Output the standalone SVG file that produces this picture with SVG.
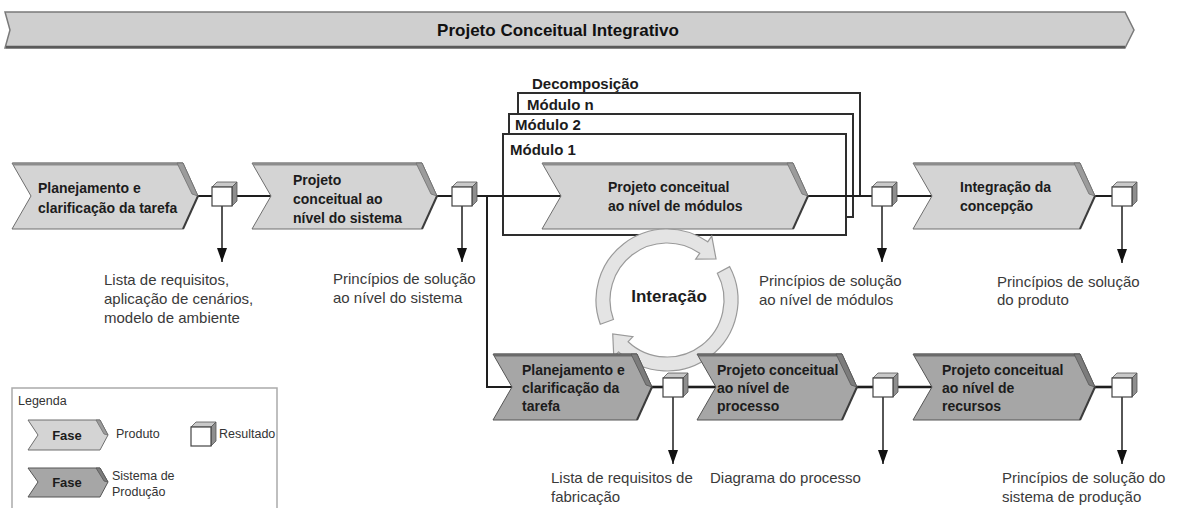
<svg xmlns="http://www.w3.org/2000/svg" width="1177" height="508" viewBox="0 0 1177 508">
  <defs>
    <style>
      text { font-family: "Liberation Sans", Arial, sans-serif; }
      .title { font-size: 17px; font-weight: bold; fill: #111; }
      .ptxt { font-size: 14px; font-weight: bold; fill: #1c1c1c; }
      .lbl { font-size: 15px; fill: #3a3a3a; }
      .mod { font-size: 15px; font-weight: bold; fill: #1c1c1c; }
      .leg { font-size: 12.5px; fill: #333; }
      .legb { font-size: 13px; font-weight: bold; fill: #1c1c1c; }
      .banner { fill: #cfcfcf; stroke: #7a7a7a; stroke-width: 1.5; }
      .ph-u { fill: #d4d4d4; stroke: #6e6e6e; stroke-width: 1; }
      .ph-l { fill: #a6a6a6; stroke: #555; stroke-width: 1; }
      .bev-u { fill: #9c9c9c; stroke: #6e6e6e; stroke-width: 0.8; }
      .bev-l { fill: #7c7c7c; stroke: #555; stroke-width: 0.8; }
      .top-u { stroke: #8c8c8c; stroke-width: 3; }
      .top-l { stroke: #6a6a6a; stroke-width: 3; }
      .shade { stroke: #3c3c3c; stroke-width: 2; fill: none; }
      .frame { fill: #fff; stroke: #2e2e2e; stroke-width: 2; }
      .wire { stroke: #1e1e1e; stroke-width: 2; fill: none; }
      .wire-l { stroke: #1e1e1e; stroke-width: 2.6; fill: none; }
      .out { stroke: #1e1e1e; stroke-width: 1.5; fill: none; marker-end: url(#ah); }
      .ring { fill: #e4e4e4; stroke: #9a9a9a; stroke-width: 1.2; }
    </style>
    <marker id="ah" viewBox="0 0 14 10" refX="14" refY="5" markerUnits="userSpaceOnUse" markerWidth="14" markerHeight="10" orient="auto">
      <path d="M0,0 L14,5 L0,10 z" fill="#111"/>
    </marker>
    <!-- result cube: front face 20x19 starting at (0,5) -->
    <symbol id="res" viewBox="0 0 26 25" width="26" height="25" overflow="visible">
      <polygon points="0,5 5,0 25,0 20,5" fill="#c9c9c9" stroke="#555" stroke-width="0.8"/>
      <polygon points="20,5 25,0 25,19 20,24" fill="#8e8e8e" stroke="#555" stroke-width="0.8"/>
      <rect x="0" y="5" width="20" height="19" fill="#fff" stroke="#444" stroke-width="1.2"/>
    </symbol>
  </defs>

  <rect width="1177" height="508" fill="#fff"/>

  <!-- top banner -->
  <g id="banner">
    <polygon class="banner" points="5,12 1125,12 1134,30 1125,48 5,48 10,30"/>
    <line x1="6" y1="47" x2="1125" y2="47" stroke="#5a5a5a" stroke-width="2.5"/>
    <text class="title" x="558" y="36" text-anchor="middle">Projeto Conceitual Integrativo</text>
  </g>

  <!-- module frames (decomposition) -->
  <g id="decomposicao">
    <text class="mod" x="532" y="89">Decomposição</text>
    <rect class="frame" x="518" y="93" width="342" height="103"/>
    <text class="mod" x="527" y="110">Módulo n</text>
    <rect class="frame" x="509" y="114" width="344" height="103"/>
    <text class="mod" x="515" y="130">Módulo 2</text>
    <rect class="frame" x="503" y="134" width="343" height="101"/>
    <text class="mod" x="510" y="155">Módulo 1</text>
  </g>

  <!-- connectors -->
  <g id="connectors">
    <line class="wire" x1="198" y1="196" x2="212" y2="196"/>
    <line class="wire" x1="237" y1="196" x2="272" y2="196"/>
    <line class="wire" x1="437" y1="196" x2="452" y2="196"/>
    <line class="wire" x1="477" y1="196" x2="562" y2="196"/>
    <line class="wire" x1="808" y1="196" x2="872" y2="196"/>
    <line class="wire" x1="897" y1="196" x2="932" y2="196"/>
    <line class="wire" x1="1095" y1="196" x2="1112" y2="196"/>
    <polyline class="wire" points="487,196 487,387 512,387"/>
    <line class="wire-l" x1="652" y1="387" x2="663" y2="387"/>
    <line class="wire-l" x1="688" y1="387" x2="716" y2="387"/>
    <line class="wire-l" x1="857" y1="387" x2="873" y2="387"/>
    <line class="wire-l" x1="898" y1="387" x2="932" y2="387"/>
    <line class="wire-l" x1="1095" y1="387" x2="1112" y2="387"/>
    <line class="out" x1="222" y1="206" x2="222" y2="262"/>
    <line class="out" x1="462" y1="206" x2="462" y2="262"/>
    <line class="out" x1="882" y1="206" x2="882" y2="262"/>
    <line class="out" x1="1122" y1="206" x2="1122" y2="263"/>
    <line class="out" x1="673" y1="397" x2="673" y2="464"/>
    <line class="out" x1="883" y1="397" x2="883" y2="464"/>
    <line class="out" x1="1122" y1="397" x2="1122" y2="464"/>
  </g>

  <!-- product phases -->
  <g id="fase-planejamento">
    <polygon class="ph-u" points="12,163 183,163 198,196 183,229 12,229 31,196"/>
    <line class="top-u" x1="13" y1="164" x2="183" y2="164"/>
    <polygon class="bev-u" points="177,163 183,163 198,196 192,194"/>
    <line class="shade" x1="198" y1="196" x2="183" y2="229"/>
    <text class="ptxt" x="38" y="193">Planejamento e</text>
    <text class="ptxt" x="38" y="213">clarificação da tarefa</text>
  </g>
  <g id="fase-sistema">
    <polygon class="ph-u" points="252,163 422,163 437,196 422,229 252,229 271,196"/>
    <line class="top-u" x1="253" y1="164" x2="422" y2="164"/>
    <polygon class="bev-u" points="416,163 422,163 437,196 431,194"/>
    <line class="shade" x1="437" y1="196" x2="422" y2="229"/>
    <text class="ptxt" x="293" y="185">Projeto</text>
    <text class="ptxt" x="293" y="204">conceitual ao</text>
    <text class="ptxt" x="293" y="223">nível do sistema</text>
  </g>
  <g id="fase-modulos">
    <polygon class="ph-u" points="542,163 793,163 808,196 793,229 542,229 561,196"/>
    <line class="top-u" x1="543" y1="164" x2="793" y2="164"/>
    <polygon class="bev-u" points="787,163 793,163 808,196 802,194"/>
    <line class="shade" x1="808" y1="196" x2="793" y2="229"/>
    <text class="ptxt" x="608" y="192">Projeto conceitual</text>
    <text class="ptxt" x="608" y="211">ao nível de módulos</text>
  </g>
  <g id="fase-integracao">
    <polygon class="ph-u" points="913,163 1080,163 1095,196 1080,229 913,229 932,196"/>
    <line class="top-u" x1="914" y1="164" x2="1080" y2="164"/>
    <polygon class="bev-u" points="1074,163 1080,163 1095,196 1089,194"/>
    <line class="shade" x1="1095" y1="196" x2="1080" y2="229"/>
    <text class="ptxt" x="960" y="192">Integração da</text>
    <text class="ptxt" x="960" y="211">concepção</text>
  </g>

  <!-- interaction cycle -->
  <g id="interacao">
    <path class="ring" d="M600.28,324.28 A71,71 0 0 1 707.72,241.84 L711.74,236.10 L716.03,258.86 L695.68,259.04 L699.69,253.31 A57,57 0 0 0 613.44,319.49 Z"/>
    <path class="ring" d="M729.69,266.67 A71,71 0 0 1 618.58,351.93 L613.80,357.05 L612.73,333.91 L632.90,336.57 L628.13,341.69 A57,57 0 0 0 717.33,273.24 Z"/>
    <text x="669" y="302" text-anchor="middle" font-size="17" font-weight="bold" fill="#1c1c1c">Interação</text>
  </g>

  <!-- production-system phases -->
  <g id="fase-planejamento-prod">
    <polygon class="ph-l" points="493,354 637,354 652,387 637,420 493,420 512,387"/>
    <line class="top-l" x1="494" y1="355" x2="637" y2="355"/>
    <polygon class="bev-l" points="631,354 637,354 652,387 646,385"/>
    <line class="shade" x1="652" y1="387" x2="637" y2="420"/>
    <text class="ptxt" x="522" y="375">Planejamento e</text>
    <text class="ptxt" x="522" y="393">clarificação da</text>
    <text class="ptxt" x="522" y="411">tarefa</text>
  </g>
  <g id="fase-processo">
    <polygon class="ph-l" points="697,354 842,354 857,387 842,420 697,420 716,387"/>
    <line class="top-l" x1="698" y1="355" x2="842" y2="355"/>
    <polygon class="bev-l" points="836,354 842,354 857,387 851,385"/>
    <line class="shade" x1="857" y1="387" x2="842" y2="420"/>
    <text class="ptxt" x="717" y="375">Projeto conceitual</text>
    <text class="ptxt" x="717" y="393">ao nível de</text>
    <text class="ptxt" x="717" y="411">processo</text>
  </g>
  <g id="fase-recursos">
    <polygon class="ph-l" points="913,354 1080,354 1095,387 1080,420 913,420 932,387"/>
    <line class="top-l" x1="914" y1="355" x2="1080" y2="355"/>
    <polygon class="bev-l" points="1074,354 1080,354 1095,387 1089,385"/>
    <line class="shade" x1="1095" y1="387" x2="1080" y2="420"/>
    <text class="ptxt" x="942" y="375">Projeto conceitual</text>
    <text class="ptxt" x="942" y="393">ao nível de</text>
    <text class="ptxt" x="942" y="411">recursos</text>
  </g>

  <!-- results -->
  <g id="res-1"><use href="#res" x="212" y="182"/></g>
  <g id="res-2"><use href="#res" x="452" y="182"/></g>
  <g id="res-3"><use href="#res" x="872" y="182"/></g>
  <g id="res-4"><use href="#res" x="1112" y="182"/></g>
  <g id="res-5"><use href="#res" x="663" y="373"/></g>
  <g id="res-6"><use href="#res" x="873" y="373"/></g>
  <g id="res-7"><use href="#res" x="1112" y="373"/></g>

  <!-- result labels -->
  <g id="labels">
    <text class="lbl" x="104" y="285">Lista de requisitos,</text>
    <text class="lbl" x="104" y="304">aplicação de cenários,</text>
    <text class="lbl" x="104" y="323">modelo de ambiente</text>
    <text class="lbl" x="333" y="284">Princípios de solução</text>
    <text class="lbl" x="333" y="303">ao nível do sistema</text>
    <text class="lbl" x="759" y="286">Princípios de solução</text>
    <text class="lbl" x="759" y="305">ao nível de módulos</text>
    <text class="lbl" x="997" y="287">Princípios de solução</text>
    <text class="lbl" x="997" y="305">do produto</text>
    <text class="lbl" x="551" y="483">Lista de requisitos de</text>
    <text class="lbl" x="551" y="502">fabricação</text>
    <text class="lbl" x="710" y="483">Diagrama do processo</text>
    <text class="lbl" x="1002" y="483">Princípios de solução do</text>
    <text class="lbl" x="1002" y="502">sistema de produção</text>
  </g>

  <!-- legend -->
  <g id="legenda">
    <rect x="12" y="388" width="265" height="130" fill="#fff" stroke="#aaa" stroke-width="1.5"/>
    <text class="leg" x="18" y="405">Legenda</text>
    <polygon class="ph-u" points="28,420 100,420 108,435 100,450 28,450 38,435"/>
    <polygon class="bev-u" points="96,420 100,420 108,435 104,434"/>
    <text class="legb" x="67" y="440" text-anchor="middle">Fase</text>
    <text class="leg" x="116" y="438">Produto</text>
    <use href="#res" x="191" y="422"/>
    <text class="leg" x="219" y="438">Resultado</text>
    <polygon class="ph-l" points="28,468 100,468 108,482 100,497 28,497 38,482"/>
    <polygon class="bev-l" points="96,468 100,468 108,482 104,481"/>
    <text class="legb" x="67" y="487" text-anchor="middle">Fase</text>
    <text class="leg" x="112" y="480">Sistema de</text>
    <text class="leg" x="112" y="496">Produção</text>
  </g>
</svg>
